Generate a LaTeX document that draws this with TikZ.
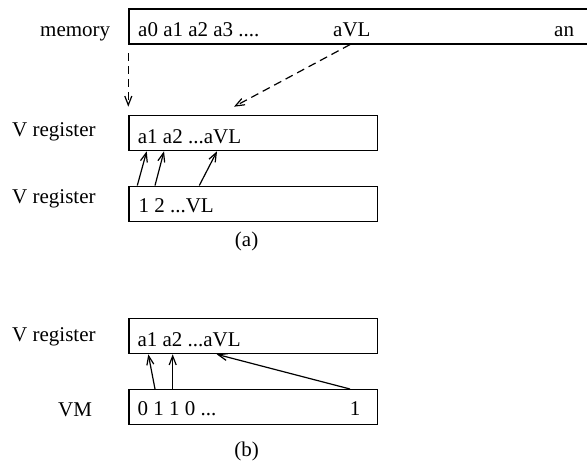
\documentclass[tikz,border=0pt]{standalone}
\usepackage{fontspec}
\setmainfont{Liberation Serif}
\usetikzlibrary{arrows.meta}
\begin{document}
\begin{tikzpicture}[x=1pt,y=-1pt,
  box/.style={draw,line width=1.3pt,rectangle,inner sep=0pt,anchor=north west,minimum height=35pt},
  txt/.style={inner sep=0pt,anchor=base west,font=\fontsize{21}{25}\selectfont},
  conn/.style={line width=1.2pt,-{Straight Barb[length=9pt,width=7pt,line width=1.2pt]}},
  dconn/.style={conn,dash pattern=on 8pt off 5pt}]
\clip (0,0) rectangle (587,461);
% memory
\node[box,minimum width=500pt] (mem) at (128.3,8.3) {};
\node[txt] (memlab) at (40,36.5) {memory};
\node[txt] (m1) at (138,36) {a0 a1 a2 a3 ....};
\node[txt] (aVL) at (333,36) {aVL};
\node[txt] (an) at (554,36) {an};
% (a)
\node[box,minimum width=248.4pt] (vra) at (128.3,115) {};
\node[box,minimum width=248.4pt] (vrb) at (128.3,185.5) {};
\node[txt] (la1) at (12,136.5) {V register};
\node[txt] (la2) at (12,203) {V register};
\node[txt] (ta1) at (137.7,143) {a1 a2 ...aVL};
\node[txt] (ta2) at (138.3,212.7) {1 2 ...VL};
\node[txt,anchor=base] (capa) at (246.6,246) {(a)};
% (b)
\node[box,minimum width=248.4pt] (vrc) at (128.3,318) {};
\node[box,minimum width=248.4pt] (vm) at (128.3,389) {};
\node[txt] (lb1) at (12,341.7) {V register};
\node[txt] (lb2) at (58,416) {VM};
\node[txt] (tb1) at (137.3,346.5) {a1 a2 ...aVL};
\node[txt] (tb2) at (137.3,415.5) {0 1 1 0 ...};
\node[txt,anchor=base] (tb3) at (355,415.5) {1};
\node[txt,anchor=base] (capb) at (246.6,456) {(b)};
% dashed arrows
\draw[dconn] ([yshift=-8.4pt]mem.south west) -- ([yshift=8.3pt]vra.north west);
\draw[dconn] ([xshift=221.7pt]mem.south west) -- ([xshift=105.7pt,yshift=8.3pt]vra.north west);
% (a) arrows
\draw[conn] ([xshift=9pt]vrb.north west) -- ([xshift=18.4pt]vra.south west);
\draw[conn] ([xshift=26.7pt]vrb.north west) -- ([xshift=35.7pt]vra.south west);
\draw[conn] ([xshift=71pt]vrb.north west) -- ([xshift=88.7pt]vra.south west);
% (b) arrows
\draw[conn] ([xshift=26.7pt]vm.north west) -- ([xshift=20pt]vrc.south west);
\draw[conn] ([xshift=44.4pt]vm.north west) -- ([xshift=44.4pt]vrc.south west);
\draw[conn] ([xshift=221.7pt]vm.north west) -- ([xshift=88.4pt]vrc.south west);
\end{tikzpicture}
\end{document}
